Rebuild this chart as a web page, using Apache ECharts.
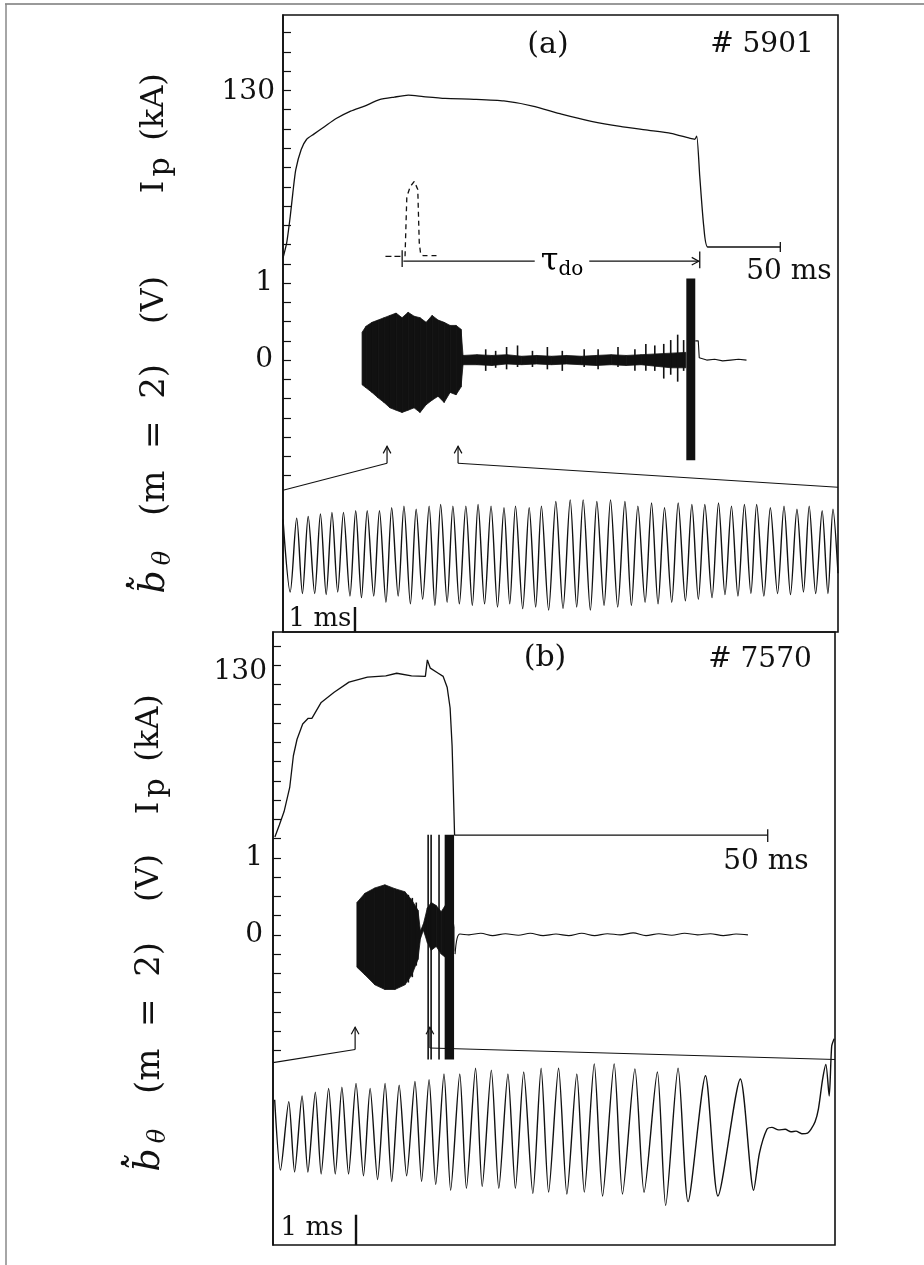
<!DOCTYPE html>
<html>
<head>
<meta charset="utf-8">
<script src="https://cdn.jsdelivr.net/npm/echarts@6/dist/echarts.min.js"></script>
<style>
html, body { margin: 0; padding: 0; background: #fff; }
#chart { width: 924px; height: 1265px; }
</style>
</head>
<body>
<div id="chart"></div>
<script>
// ---- panel (a), shot 5901 : slow time base (ms) ----
var ipA_t  = [0, 0.37, 0.73, 0.99, 1.28, 1.83, 2.38, 3.1, 4.2, 5.3, 6.8, 8.2, 9.7, 11.2, 12.6, 14.1, 16.3, 19.2, 22.2, 25.1, 28.0, 31.0, 33.9, 36.8, 39.0, 40.8, 41.4, 41.6, 41.9, 42.3, 42.7, 44.9, 50.0]
var ipA_kA = [0, 11.8, 32.7, 51, 69, 85, 93, 97, 103, 109, 115, 119, 124, 126, 127.5, 126.4, 125, 124.3, 123, 119, 112.6, 107, 103, 100, 97.6, 94, 93, 95.5, 64, 25, 8.6, 8.6, 8.6]

var pulseA_t  = [12.27, 12.45, 12.8, 13.2, 13.4, 13.55, 13.7, 13.85, 14.1, 15.75]
var pulseA_kA = [1.3, 48, 56, 60, 61.5, 53.7, 11.8, 2.6, 1.8, 1.8]

// envelope of the m=2 signal (V): burst, then the quiet part
var bA_t  = [7.95, 8.35, 8.95, 9.56, 10.16, 10.76, 11.37, 11.97, 12.58, 13.18, 13.78, 14.39, 14.99, 15.59, 16.2, 16.8, 17.4, 17.9, 18.1,
  19.5, 21.0, 22.5, 24.0, 25.5, 27.0, 28.5, 30.0, 31.5, 33.0, 34.5, 36.0, 37.5, 39.0, 40.5]
var bA_hi = [0.36, 0.44, 0.49, 0.52, 0.55, 0.58, 0.61, 0.55, 0.62, 0.57, 0.55, 0.49, 0.58, 0.52, 0.49, 0.45, 0.45, 0.40, 0.06,
  0.07, 0.06, 0.07, 0.05, 0.06, 0.05, 0.06, 0.05, 0.06, 0.07, 0.06, 0.07, 0.08, 0.09, 0.10]
var bA_lo = [-0.32, -0.36, -0.42, -0.49, -0.55, -0.62, -0.65, -0.68, -0.65, -0.62, -0.68, -0.58, -0.52, -0.47, -0.55, -0.42, -0.45, -0.35, -0.06,
  -0.06, -0.07, -0.05, -0.06, -0.05, -0.06, -0.05, -0.06, -0.07, -0.06, -0.07, -0.06, -0.08, -0.10, -0.10]
// [t0, t1, top, bottom]
var spikesA = [[40.55, 41.45, 1.06, -1.30],
  [20.3, 20.35, 0.14, -0.14], [21.3, 21.35, 0.12, -0.10], [22.4, 22.45, 0.17, -0.12], [23.5, 23.55, 0.19, -0.09],
  [25.0, 25.05, 0.12, -0.09], [26.5, 26.55, 0.17, -0.12], [28.0, 28.05, 0.12, -0.14], [30.2, 30.25, 0.14, -0.09],
  [31.6, 31.65, 0.14, -0.12], [33.6, 33.65, 0.17, -0.09], [35.3, 35.35, 0.14, -0.14], [36.4, 36.45, 0.21, -0.14],
  [37.3, 37.35, 0.19, -0.14], [38.2, 38.25, 0.21, -0.24], [38.9, 38.95, 0.26, -0.19], [39.6, 39.65, 0.33, -0.28], [40.2, 40.25, 0.26, -0.14]]
var postA_t = [41.45, 41.75, 41.85, 42.6, 43.4, 44.2, 45.0, 45.8, 46.6]
var postA_v = [0.25, 0.25, 0.03, 0.0, 0.01, -0.01, 0.0, 0.01, 0.0]

// ---- panel (a) : fast time base (ms), zoom of 10.5-17.6 ms ----
var fastA_peakT = [0.00, 0.19, 0.35, 0.52, 0.68, 0.84, 1.01, 1.17, 1.34, 1.51, 1.68, 1.85, 2.03, 2.19, 2.36, 2.54, 2.71, 2.89, 3.07, 3.23, 3.42, 3.59, 3.79, 3.99, 4.17, 4.36, 4.55, 4.75, 4.93, 5.12, 5.30, 5.49, 5.68, 5.86, 6.05, 6.23, 6.41, 6.58, 6.77, 6.96, 7.14, 7.31, 7.49, 7.64]
var fastA_peakV = [0.68, 0.71, 0.74, 0.79, 0.82, 0.82, 0.85, 0.85, 0.85, 0.91, 0.94, 0.88, 0.94, 0.97, 0.94, 0.94, 0.97, 0.94, 0.91, 0.94, 0.91, 0.94, 1.03, 1.06, 1.06, 1.03, 1.06, 1.03, 0.94, 1.0, 0.91, 1.0, 0.97, 0.97, 1.0, 0.94, 0.97, 0.97, 0.91, 0.94, 0.88, 0.94, 0.85, 0.88]
var fastA_troughT = [0.10, 0.27, 0.44, 0.60, 0.76, 0.93, 1.09, 1.26, 1.43, 1.60, 1.77, 1.94, 2.11, 2.28, 2.45, 2.63, 2.80, 2.98, 3.15, 3.33, 3.51, 3.69, 3.89, 4.08, 4.27, 4.46, 4.65, 4.84, 5.03, 5.21, 5.40, 5.59, 5.77, 5.96, 6.14, 6.32, 6.50, 6.68, 6.87, 7.05, 7.23, 7.40, 7.57, 7.71]
var fastA_troughV = [-0.71, -0.74, -0.74, -0.76, -0.71, -0.79, -0.82, -0.79, -0.91, -0.79, -0.94, -0.85, -0.97, -0.91, -0.94, -0.97, -0.94, -1.0, -0.94, -1.03, -1.0, -1.06, -1.03, -1.0, -1.06, -0.97, -1.0, -0.97, -0.91, -0.94, -0.91, -0.88, -0.85, -0.82, -0.76, -0.79, -0.74, -0.79, -0.74, -0.76, -0.71, -0.74, -0.74, -0.35]

// ---- panel (b), shot 7570 ----
var ipB_t  = [0.19, 0.64, 1.12, 1.69, 2.06, 2.43, 3.0, 3.56, 3.93, 4.87, 6.18, 7.68, 9.55, 11.4, 12.5, 14.0, 15.4, 15.6, 15.9, 16.7, 17.2, 17.6, 17.9, 18.1, 18.2, 18.35, 50.0]
var ipB_kA = [0, 9.5, 20, 39, 64, 77, 89, 93.5, 93.5, 106, 114, 122, 126, 127, 129, 127, 126.5, 139.5, 133, 129, 126.5, 118, 101.6, 72, 45, 1.5, 1.5]

var bB_t  = [8.48, 9.29, 10.3, 11.31, 12.32, 13.33, 14.04, 14.65, 14.9, 15.2, 15.6, 16.0, 16.5, 17.0, 17.5, 18.0, 18.3]
var bB_hi = [0.42, 0.54, 0.61, 0.65, 0.60, 0.56, 0.45, 0.32, 0.05, 0.14, 0.35, 0.42, 0.38, 0.30, 0.40, 0.35, 0.10]
var bB_lo = [-0.42, -0.52, -0.65, -0.71, -0.71, -0.65, -0.52, -0.32, -0.05, 0.06, -0.10, -0.20, -0.15, -0.25, -0.30, -0.35, -0.20]
var spikesB = [[15.6, 15.75, 1.30, -1.62], [15.9, 16.02, 1.30, -1.62], [16.7, 16.82, 1.30, -1.62], [17.35, 18.3, 1.30, -1.62],
  [13.6, 13.65, 0.52, -0.62], [14.0, 14.05, 0.48, -0.55], [14.4, 14.45, 0.42, -0.40]]
var postB_t = [18.4, 18.6, 18.9, 19.8, 21.0, 22.2, 23.5, 24.8, 26.0, 27.3, 28.6, 29.9, 31.2, 32.5, 33.8, 35.1, 36.4, 37.7, 39.0, 40.3, 41.6, 42.9, 44.2, 45.5, 46.8, 48.0]
var postB_v = [-0.25, -0.05, 0.01, 0.0, 0.02, -0.01, 0.015, -0.005, 0.02, -0.01, 0.01, -0.01, 0.02, -0.01, 0.015, 0.0, 0.025, -0.01, 0.015, -0.005, 0.02, 0.0, 0.015, -0.01, 0.01, 0.0]

var fastB_peakT = [0.02, 0.19, 0.35, 0.51, 0.67, 0.83, 1.0, 1.17, 1.35, 1.52, 1.71, 1.88, 2.06, 2.25, 2.44, 2.63, 2.83, 3.02, 3.23, 3.44, 3.66, 3.87, 4.11, 4.36, 4.63, 4.88, 5.21, 5.63]
var fastB_peakV = [0.56, 0.53, 0.62, 0.68, 0.74, 0.76, 0.82, 0.74, 0.82, 0.79, 0.85, 0.88, 0.97, 0.97, 1.06, 1.03, 0.97, 1.0, 1.06, 1.06, 0.97, 1.13, 1.13, 1.05, 1.0, 1.06, 0.94, 0.89]
var fastB_troughT = [0.09, 0.26, 0.42, 0.58, 0.75, 0.91, 1.09, 1.26, 1.43, 1.61, 1.79, 1.96, 2.14, 2.33, 2.52, 2.72, 2.92, 3.13, 3.32, 3.54, 3.75, 3.97, 4.21, 4.47, 4.73, 5.0, 5.36, 5.79]
var fastB_troughV = [-0.56, -0.59, -0.59, -0.62, -0.62, -0.62, -0.65, -0.71, -0.74, -0.65, -0.74, -0.79, -0.88, -0.85, -0.82, -0.85, -0.85, -0.93, -0.91, -0.94, -0.91, -0.97, -0.94, -0.91, -1.12, -1.06, -0.97, -0.88]
var fastB_tailT = [5.86, 5.95, 6.01, 6.09, 6.17, 6.24, 6.30, 6.37, 6.44, 6.48, 6.53, 6.57, 6.62, 6.66, 6.70, 6.73, 6.76]
var fastB_tailV = [-0.29, 0.09, 0.12, 0.08, 0.09, 0.05, 0.06, 0.02, 0.03, 0.09, 0.21, 0.41, 0.88, 1.12, 0.62, 1.41, 1.53]

var ipLabels = [130]
var vLabels = [0, 1]

var INK = '#111'
var SERIF = 'DejaVu Serif'

function zip(xs, ys) {
  return xs.map(function (x, i) { return [x, ys[i]] })
}

function mergeExtrema(pt, pv, tt, tv) {
  return zip(pt, pv).concat(zip(tt, tv)).sort(function (a, b) { return a[0] - b[0] })
}

function tickList(from, to) {
  var out = []
  for (var v = from; v <= to + 1e-9; v += 0.25) out.push(+v.toFixed(2))
  return out
}

function line(xi, yi, data, extra) {
  var s = {
    type: 'line', xAxisIndex: xi, yAxisIndex: yi, data: data,
    symbol: 'none', clip: false, silent: true,
    lineStyle: { color: INK, width: 1.3 }
  }
  return Object.assign(s, extra || {})
}

function band(xi, yi, ts, his, los) {
  return {
    type: 'custom', xAxisIndex: xi, yAxisIndex: yi, clip: false, silent: true,
    data: ts.map(function (t, i) { return [t, his[i], los[i]] }),
    renderItem: function (params, api) {
      var i = params.dataIndex
      if (i >= ts.length - 1) return { type: 'group', children: [] }
      var a1 = api.coord([ts[i], his[i]])
      var a2 = api.coord([ts[i + 1], his[i + 1]])
      var b2 = api.coord([ts[i + 1], los[i + 1]])
      var b1 = api.coord([ts[i], los[i]])
      return {
        type: 'polygon', shape: { points: [a1, a2, b2, b1] },
        style: { fill: INK, stroke: INK, lineWidth: 0.8 }
      }
    }
  }
}

function spikes(xi, yi, rows) {
  return {
    type: 'custom', xAxisIndex: xi, yAxisIndex: yi, clip: false, silent: true,
    data: rows,
    renderItem: function (params, api) {
      var r = rows[params.dataIndex]
      var p0 = api.coord([r[0], r[2]])
      var p1 = api.coord([r[1], r[3]])
      return {
        type: 'rect',
        shape: { x: p0[0], y: p0[1], width: Math.max(1.6, p1[0] - p0[0]), height: p1[1] - p0[1] },
        style: { fill: INK }
      }
    }
  }
}

// open arrow heads, rows are [x0, y0, x1, y1] in data units
function arrows(xi, yi, rows) {
  return {
    type: 'custom', xAxisIndex: xi, yAxisIndex: yi, clip: false, silent: true,
    data: rows,
    renderItem: function (params, api) {
      var r = rows[params.dataIndex]
      var p0 = api.coord([r[0], r[1]])
      var p1 = api.coord([r[2], r[3]])
      var ang = Math.atan2(p1[1] - p0[1], p1[0] - p0[0])
      var L = 8, w = 0.5
      var h1 = [p1[0] - L * Math.cos(ang - w), p1[1] - L * Math.sin(ang - w)]
      var h2 = [p1[0] - L * Math.cos(ang + w), p1[1] - L * Math.sin(ang + w)]
      return {
        type: 'group', children: [
          { type: 'line', shape: { x1: p0[0], y1: p0[1], x2: p1[0], y2: p1[1] }, style: { stroke: INK, lineWidth: 1.2 } },
          { type: 'polyline', shape: { points: [h1, p1, h2] }, style: { stroke: INK, lineWidth: 1.2, fill: null } }
        ]
      }
    }
  }
}

function vAxis(grid, min, max, ticks, margin) {
  return {
    gridIndex: grid, type: 'value', min: min, max: max, position: 'left',
    axisLine: { show: true, lineStyle: { color: INK, width: 1.6 } },
    axisTick: { show: true, inside: true, length: 8, customValues: ticks, lineStyle: { color: INK, width: 1.2 } },
    axisLabel: { show: true, customValues: vLabels, margin: margin, color: INK, fontFamily: SERIF, fontSize: 28 },
    splitLine: { show: false }
  }
}

function ipAxis(grid, min, max, margin) {
  return {
    gridIndex: grid, type: 'value', min: min, max: max, position: 'left',
    axisLine: { show: false }, axisTick: { show: false },
    axisLabel: { show: true, customValues: ipLabels, margin: margin, color: INK, fontFamily: SERIF, fontSize: 28 },
    splitLine: { show: false }
  }
}

function hidden(grid, min, max) {
  return { gridIndex: grid, type: 'value', min: min, max: max, show: false, splitLine: { show: false } }
}

function txt(x, y, text, size, extra) {
  return Object.assign({
    type: 'text', x: x, y: y, silent: true, z: 50,
    style: { text: text, fill: INK, font: size + 'px "' + SERIF + '"', align: 'center', verticalAlign: 'middle' }
  }, extra || {})
}

// text reading bottom to top
function vtxt(x, y, text, size, italic) {
  return {
    type: 'text', x: x, y: y, rotation: Math.PI / 2, silent: true, z: 50,
    style: { text: text, fill: INK, font: (italic ? 'italic ' : '') + size + 'px "' + SERIF + '"', align: 'center', verticalAlign: 'middle' }
  }
}

function ipLabel(x, y) {
  return [vtxt(x, y - 80, '(kA)', 32), vtxt(x + 6, y - 20, 'p', 30), vtxt(x, y, 'I', 32)]
}

function bLabel(x, y) {
  return [
    vtxt(x, y - 282, '(V)', 32),
    vtxt(x, y - 142, '(m  =  2)', 34),
    vtxt(x + 9, y - 24, 'θ', 24, true),
    vtxt(x, y, 'b\u0303', 36, true),
    { type: 'circle', shape: { cx: x - 27, cy: y + 3, r: 2.3 }, style: { fill: INK }, silent: true, z: 50 }
  ]
}

var tauRich = {
  t: { fontFamily: SERIF, fontSize: 32, color: INK },
  s: { fontFamily: SERIF, fontSize: 20, color: INK, padding: [16, 0, 0, 0] }
}

var chart = echarts.init(document.getElementById('chart'), null, { renderer: 'canvas' })

chart.setOption({
  animation: false,
  backgroundColor: '#fff',
  grid: [
    { left: 283, top: 15, width: 555, height: 617, show: true, borderColor: INK, borderWidth: 1.6 },
    { left: 283, top: 490, width: 555, height: 142 },
    { left: 273, top: 632, width: 562, height: 613, show: true, borderColor: INK, borderWidth: 1.6 },
    { left: 273, top: 1045, width: 562, height: 200 }
  ],
  xAxis: [
    hidden(0, 0, 55.8),
    hidden(1, 0, 7.71),
    hidden(2, 0, 56.8),
    hidden(3, 0, 6.77)
  ],
  yAxis: [
    vAxis(0, -3.53, 4.48, tickList(-1.5, 4.25), 10),
    ipAxis(0, -292.9, 190.3, 8),
    hidden(1, -1.48, 1.25),
    vAxis(2, -4.03, 3.935, tickList(-1.5, 3.75), 10),
    ipAxis(2, -321.5, 161.5, 6),
    hidden(3, -1.75, 1.43)
  ],
  series: [
    // panel (a)
    line(0, 1, zip(ipA_t, ipA_kA), { smooth: 0.2 }),
    line(0, 1, [[50, 4.6], [50, 12.6]]),
    line(0, 1, zip(pulseA_t, pulseA_kA), { lineStyle: { color: INK, width: 1.3, type: [5, 4] } }),
    line(0, 1, [[10.3, 1.3], [11.98, 1.3]], { lineStyle: { color: INK, width: 1.1, type: [6, 3] } }),
    line(0, 1, [[11.98, -7], [11.98, 6]]),
    line(0, 1, [[41.9, -8], [41.9, 5]]),
    arrows(0, 1, [[12.1, -2.5, 41.8, -2.5]]),
    band(0, 0, bA_t, bA_hi, bA_lo),
    spikes(0, 0, spikesA),
    line(0, 0, zip(postA_t, postA_v), { lineStyle: { color: INK, width: 1.1 } }),
    line(0, 0, [[0, -1.69], [10.46, -1.34]], { lineStyle: { color: INK, width: 1.1 } }),
    line(0, 0, [[17.6, -1.34], [55.8, -1.65]], { lineStyle: { color: INK, width: 1.1 } }),
    arrows(0, 0, [[10.46, -1.34, 10.46, -1.12], [17.6, -1.34, 17.6, -1.12]]),
    line(1, 2, mergeExtrema(fastA_peakT, fastA_peakV, fastA_troughT, fastA_troughV), { smooth: 0.3, lineStyle: { color: INK, width: 1.4 } }),
    line(1, 2, [[1, -1.48], [1, -1.0]], { lineStyle: { color: INK, width: 2.4 } }),
    // panel (b)
    line(2, 4, zip(ipB_t, ipB_kA)),
    line(2, 4, [[50, -4], [50, 6]]),
    band(2, 3, bB_t, bB_hi, bB_lo),
    spikes(2, 3, spikesB),
    line(2, 3, zip(postB_t, postB_v), { smooth: 0.3, lineStyle: { color: INK, width: 1.1 } }),
    line(2, 3, [[0, -1.66], [8.3, -1.49]], { lineStyle: { color: INK, width: 1.1 } }),
    line(2, 3, [[15.86, -1.47], [56.8, -1.62]], { lineStyle: { color: INK, width: 1.1 } }),
    arrows(2, 3, [[8.3, -1.49, 8.3, -1.2], [15.86, -1.47, 15.86, -1.2]]),
    line(3, 5, mergeExtrema(fastB_peakT, fastB_peakV, fastB_troughT, fastB_troughV).concat(zip(fastB_tailT, fastB_tailV)), { smooth: 0.25, lineStyle: { color: INK, width: 1.4 } }),
    line(3, 5, [[1, -1.75], [1, -1.27]], { lineStyle: { color: INK, width: 2.4 } })
  ],
  graphic: [
    { type: 'line', shape: { x1: 5, y1: 4, x2: 924, y2: 4 }, style: { stroke: '#777', lineWidth: 1.5 }, silent: true },
    { type: 'line', shape: { x1: 6, y1: 4, x2: 6, y2: 1265 }, style: { stroke: '#888', lineWidth: 1.5 }, silent: true },
    txt(548, 45, '(a)', 30),
    txt(762, 45, '# 5901', 28),
    txt(789, 272, '50 ms', 28),
    txt(320, 619, '1 ms', 26),
    {
      type: 'text', x: 562, y: 262, silent: true, z: 50,
      style: { text: '{t|τ}{s|do}', rich: tauRich, align: 'center', verticalAlign: 'middle', backgroundColor: '#fff', padding: [0, 6, 0, 6] }
    },
    txt(545, 658, '(b)', 30),
    txt(760, 660, '# 7570', 28),
    txt(766, 862, '50 ms', 28),
    txt(312, 1228, '1 ms', 26)
  ].concat(ipLabel(155, 187), bLabel(155, 582), ipLabel(150, 808), bLabel(150, 1160))
})
</script>
</body>
</html>
